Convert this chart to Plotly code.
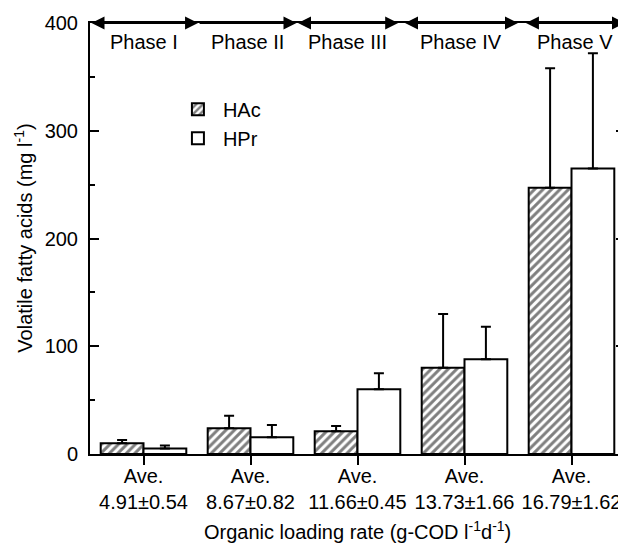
import plotly.graph_objects as go

# ---- data ----
olr_labels = ["Ave.<br>4.91±0.54", "Ave.<br>8.67±0.82", "Ave.<br>11.66±0.45",
              "Ave.<br>13.73±1.66", "Ave.<br>16.79±1.62"]
hac = [10, 24, 21, 80, 247]
hac_err = [3, 11.5, 5, 50, 111]
hpr = [5, 15.5, 60, 88, 265]
hpr_err = [2.8, 11.5, 15, 30, 107]
phase_names = ["Phase I", "Phase II", "Phase III", "Phase IV", "Phase V"]
phase_start = [-0.5, 0.51, 1.43, 2.43, 3.56]
phase_end = [0.51, 1.43, 2.38, 3.50, 4.5]
phase_start_head = [True, False, True, True, True]

FONT = "Liberation Sans, Arial, sans-serif"
FS = 20

fig = go.Figure()
fig.add_trace(go.Bar(
    x=olr_labels, y=hac, name="HAc",
    marker=dict(color="white", line=dict(color="black", width=2),
                pattern=dict(shape="/", fgcolor="black", bgcolor="white",
                             size=6, solidity=0.5)),
    error_y=dict(type="data", array=hac_err, arrayminus=[0] * len(hac),
                 symmetric=False, color="black", thickness=2, width=5),
))
fig.add_trace(go.Bar(
    x=olr_labels, y=hpr, name="HPr",
    marker=dict(color="white", line=dict(color="black", width=2)),
    error_y=dict(type="data", array=hpr_err, arrayminus=[0] * len(hpr),
                 symmetric=False, color="black", thickness=2, width=5),
))

annotations = []
for name, s, e, sh in zip(phase_names, phase_start, phase_end, phase_start_head):
    annotations.append(dict(
        x=e, y=400, ax=s, ay=400, xref="x", yref="y", axref="x", ayref="y",
        text="", showarrow=True, arrowside="end+start" if sh else "end",
        arrowhead=2, startarrowhead=2, arrowsize=1.3, startarrowsize=1.3,
        arrowwidth=2, arrowcolor="black"))
    annotations.append(dict(
        x=(s + e) / 2, y=382, xref="x", yref="y", text=name, showarrow=False,
        font=dict(family=FONT, size=FS, color="black"), yanchor="middle"))

annotations.append(dict(
    x=0.5, y=-0.178, xref="paper", yref="paper", showarrow=False,
    text="Organic loading rate (g-COD l<sup>-1</sup>d<sup>-1</sup>)",
    font=dict(family=FONT, size=FS, color="black"), yanchor="middle"))
annotations.append(dict(
    x=-0.125, y=0.5, xref="paper", yref="paper", showarrow=False,
    text="Volatile fatty acids (mg l<sup>-1</sup>)", textangle=-90,
    font=dict(family=FONT, size=FS, color="black"), xanchor="center", yanchor="middle"))

# page body has an 8px margin: shift the figure so the plot lands where the reference is
fig.update_layout(
    width=618, height=538,
    margin=dict(l=82, r=1, t=15, b=92, autoexpand=False),
    paper_bgcolor="white", plot_bgcolor="white",
    barmode="group", bargap=0.2, bargroupgap=0,
    font=dict(family=FONT, size=FS, color="black"),
    showlegend=True,
    legend=dict(x=0.155, y=0.845, xanchor="left", yanchor="top",
                bgcolor="rgba(0,0,0,0)", font=dict(size=FS),
                tracegroupgap=0, itemwidth=40),
    annotations=annotations,
)
fig.update_xaxes(
    range=[-0.5, 4.5], showline=True, linewidth=2, linecolor="black",
    mirror=True, ticks="outside", ticklen=9, tickwidth=2, tickcolor="black",
    showgrid=False, tickfont=dict(size=FS), tickangle=0, automargin=False,
    ticklabelstandoff=-6,
)
fig.update_yaxes(
    range=[0, 400], tickvals=[0, 100, 200, 300, 400],
    showline=True, linewidth=2, linecolor="black", mirror="ticks",
    ticks="inside", ticklen=9, tickwidth=2, tickcolor="black",
    minor=dict(dtick=50, ticks="inside", ticklen=5, tickwidth=2, tickcolor="black"),
    showgrid=False, zeroline=False, tickfont=dict(size=FS), automargin=False,
    ticklabelstandoff=6,
)

fig.write_html("out.html")
